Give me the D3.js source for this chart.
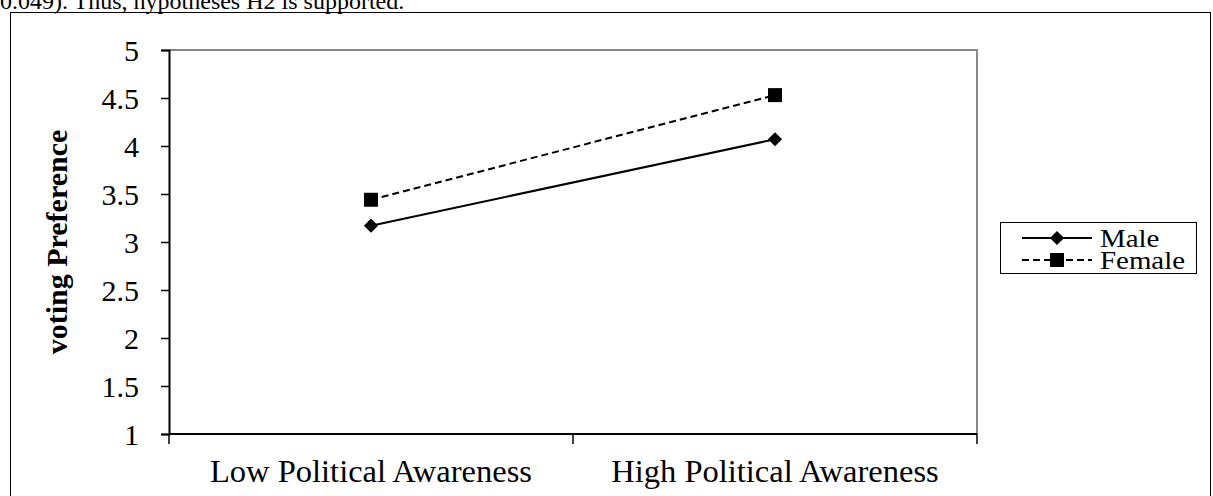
<!DOCTYPE html>
<html>
<head>
<meta charset="utf-8">
<script src="https://cdn.jsdelivr.net/npm/d3@7"></script>
<style>
  html, body { margin: 0; padding: 0; background: #fff; }
  svg { display: block; font-family: "Liberation Serif", "Times New Roman", serif; }
</style>
</head>
<body>
<svg id="chart" width="1213" height="496"></svg>
<script>
// Interaction plot: voting preference by political awareness and gender
const categories = ["Low Political Awareness", "High Political Awareness"];
const seriesNames = ["Male", "Female"];
const maleValues = [3.17, 4.07];
const femaleValues = [3.44, 4.53];
const yTicks = [1, 1.5, 2, 2.5, 3, 3.5, 4, 4.5, 5];

const series = [
  { name: seriesNames[0], values: maleValues, marker: "diamond", dash: null },
  { name: seriesNames[1], values: femaleValues, marker: "square", dash: "7,4" }
];

const svg = d3.select("#chart");
const plot = { left: 169, right: 977, top: 50, bottom: 434 };

// Preceding paragraph line, clipped at the top of the page
svg.append("text")
  .attr("x", 0).attr("y", 9)
  .attr("font-size", 24)
  .text("0.049). Thus, hypotheses H2 is supported.");

// Outer chart frame
svg.append("rect")
  .attr("x", 10.5).attr("y", 12.5)
  .attr("width", 1200).attr("height", 500)
  .attr("fill", "none").attr("stroke", "#000").attr("stroke-width", 1);

const x = d3.scaleBand().domain(categories).range([plot.left, plot.right]);
const y = d3.scaleLinear().domain([1, 5]).range([plot.bottom, plot.top]);

// Plot area top/right border
svg.append("path")
  .attr("d", `M${plot.left},${plot.top}H${plot.right}V${plot.bottom}`)
  .attr("fill", "none").attr("stroke", "#888").attr("stroke-width", 2);

// Y axis
const yAxis = svg.append("g")
  .attr("transform", `translate(${plot.left},0)`)
  .call(d3.axisLeft(y).tickValues(yTicks).tickSize(8).tickPadding(22)
    .tickFormat(d3.format("~g")));
yAxis.select(".domain").attr("stroke", "#000").attr("stroke-width", 2);
yAxis.selectAll(".tick line").attr("stroke", "#000").attr("stroke-width", 1.5);
yAxis.selectAll(".tick text")
  .attr("font-family", "Liberation Serif, serif")
  .attr("font-size", 30).attr("fill", "#000").attr("dy", "0.34em");

// X axis: ticks at category boundaries
const xAxis = svg.append("g")
  .attr("transform", `translate(0,${plot.bottom})`);
xAxis.append("line")
  .attr("x1", plot.left).attr("x2", plot.right)
  .attr("stroke", "#000").attr("stroke-width", 2);
const boundaries = [plot.left].concat(categories.map(c => x(c) + x.bandwidth()));
xAxis.selectAll("line.tick").data(boundaries).join("line")
  .attr("class", "tick")
  .attr("x1", d => d).attr("x2", d => d)
  .attr("y1", 0).attr("y2", 10)
  .attr("stroke", "#000").attr("stroke-width", 1.5);
xAxis.selectAll("text").data(categories).join("text")
  .attr("x", d => x(d) + x.bandwidth() / 2)
  .attr("y", 48)
  .attr("text-anchor", "middle")
  .attr("font-size", 32.5)
  .text(d => d);

// Y axis title
svg.append("text")
  .attr("transform", `translate(67,${(plot.top + plot.bottom) / 2}) rotate(-90)`)
  .attr("text-anchor", "middle")
  .attr("font-size", 30).attr("font-weight", "bold")
  .text("voting Preference");

const symbolFor = m => m === "diamond"
  ? d3.symbol().type(d3.symbolSquare).size(100)
  : d3.symbol().type(d3.symbolSquare).size(196);
const rotFor = m => m === "diamond" ? " rotate(45)" : "";

const line = d3.line()
  .x((d, i) => x(categories[i]) + x.bandwidth() / 2)
  .y(d => y(d));

series.forEach(s => {
  svg.append("path")
    .attr("d", line(s.values))
    .attr("fill", "none").attr("stroke", "#000").attr("stroke-width", 2)
    .attr("stroke-dasharray", s.dash);
  svg.selectAll(null).data(s.values).join("path")
    .attr("d", symbolFor(s.marker)())
    .attr("transform", (d, i) =>
      `translate(${x(categories[i]) + x.bandwidth() / 2},${y(d)})${rotFor(s.marker)}`)
    .attr("fill", "#000");
});

// Legend (entry labels are set slightly condensed vertically, wide horizontally)
const legend = svg.append("g");
legend.append("rect")
  .attr("x", 1000.5).attr("y", 222.5)
  .attr("width", 196).attr("height", 51)
  .attr("fill", "#fff").attr("stroke", "#000").attr("stroke-width", 1);
series.forEach((s, i) => {
  const ly = 238 + i * 22;
  legend.append("line")
    .attr("x1", 1022).attr("x2", 1092).attr("y1", ly).attr("y2", ly)
    .attr("stroke", "#000").attr("stroke-width", 2)
    .attr("stroke-dasharray", s.dash);
  legend.append("path")
    .attr("d", symbolFor(s.marker)())
    .attr("transform", `translate(1057,${ly})${rotFor(s.marker)}`)
    .attr("fill", "#000");
  legend.append("text")
    .attr("transform", `translate(1100,${ly}) scale(1.18,1)`)
    .attr("dy", "0.36em")
    .attr("font-size", 24.5)
    .text(s.name);
});
</script>
</body>
</html>
